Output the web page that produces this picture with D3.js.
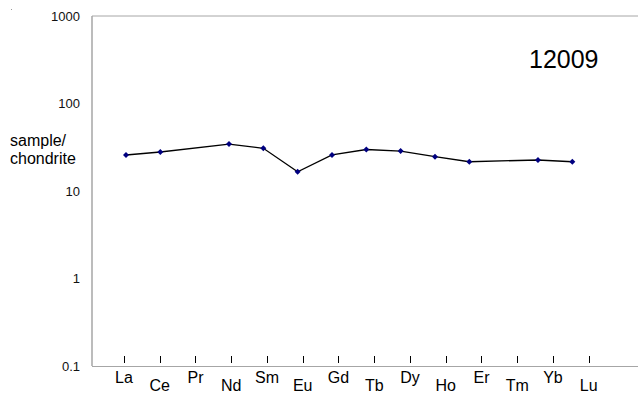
<!DOCTYPE html>
<html>
<head>
<meta charset="utf-8">
<script src="https://cdn.jsdelivr.net/npm/d3@7"></script>
<style>
body { margin: 0; background: #fff; }
svg { display: block; font-family: "Liberation Sans", Arial, sans-serif; }
</style>
</head>
<body>
<div id="chart"></div>
<script>
// data
var elements = ["La", "Ce", "Pr", "Nd", "Sm", "Eu", "Gd", "Tb", "Dy", "Ho", "Er", "Tm", "Yb", "Lu"];
var values = [25.8, 27.9, null, 34.4, 30.8, 16.6, 25.8, 29.8, 28.6, 24.7, 21.6, null, 22.6, 21.6];
var yTicks = [0.1, 1, 10, 100, 1000];
var title = "12009";

//setup
var W = 638, H = 397;
var plot = { left: 92, top: 16, right: 638, bottom: 366 };

const svg = d3.select("#chart").append("svg")
    .attr("width", W)
    .attr("height", H);

const y = d3.scaleLog().domain([0.1, 1000]).range([plot.bottom, plot.top]);
// points sit on the chart's own category grid
const xPt = d3.scaleLinear().domain([1, 14]).range([126, 572.3]);
// element labels + ticks are a separate row under the plot
const xLab = d3.scaleLinear().domain([0, 13]).range([124, 588.7]);

// stray dot top left
svg.append("rect").attr("x", 11).attr("y", 9).attr("width", 1).attr("height", 1).attr("fill", "#999");

// frame
svg.append("line")
    .attr("x1", plot.left).attr("x2", plot.right)
    .attr("y1", plot.top).attr("y2", plot.top)
    .attr("stroke", "#a6a6a6");
svg.append("line")
    .attr("x1", plot.left).attr("x2", plot.left)
    .attr("y1", plot.top).attr("y2", plot.bottom)
    .attr("stroke", "#a6a6a6").attr("stroke-width", 1.5);
svg.append("line")
    .attr("x1", plot.left).attr("x2", plot.right)
    .attr("y1", plot.bottom + 0.5).attr("y2", plot.bottom + 0.5)
    .attr("stroke", "#a6a6a6");

// y labels
svg.selectAll(".ylab")
    .data(yTicks)
    .enter()
    .append("text")
    .attr("class", "ylab")
    .attr("x", 80)
    .attr("y", d => y(d) + 4.5)
    .attr("text-anchor", "end")
    .attr("font-size", 13)
    .attr("fill", "#111")
    .text(d => d);

svg.append("text")
    .attr("x", 10).attr("y", 146)
    .attr("font-size", 16)
    .text("sample/");
svg.append("text")
    .attr("x", 10).attr("y", 164)
    .attr("font-size", 16)
    .text("chondrite");

// element ticks and labels
svg.selectAll(".etick")
    .data(elements)
    .enter()
    .append("line")
    .attr("class", "etick")
    .attr("x1", (d, i) => Math.round(xLab(i)) + 0.5)
    .attr("x2", (d, i) => Math.round(xLab(i)) + 0.5)
    .attr("y1", 356).attr("y2", 363)
    .attr("stroke", "#000");

svg.selectAll(".elab")
    .data(elements)
    .enter()
    .append("text")
    .attr("class", "elab")
    .attr("x", (d, i) => xLab(i))
    .attr("y", (d, i) => i % 2 == 0 ? 383 : 390.5)
    .attr("text-anchor", "middle")
    .attr("font-size", 16)
    .text(d => d);

// series
var pts = values.map((v, i) => ({ el: elements[i], i: i + 1, v: v }))
    .filter(d => d.v != null);

svg.append("path")
    .datum(pts)
    .attr("fill", "none")
    .attr("stroke", "#000")
    .attr("stroke-width", 1.3)
    .attr("d", d3.line()
        .x(d => xPt(d.i))
        .y(d => y(d.v)));

svg.selectAll(".pt")
    .data(pts)
    .enter()
    .append("path")
    .attr("class", "pt")
    .attr("transform", d => "translate(" + xPt(d.i) + "," + y(d.v) + ")")
    .attr("d", "M0,-3L3,0L0,3L-3,0Z")
    .attr("fill", "#000080");

svg.append("text")
    .attr("x", 529).attr("y", 68)
    .attr("font-size", 25)
    .text(title);
</script>
</body>
</html>
